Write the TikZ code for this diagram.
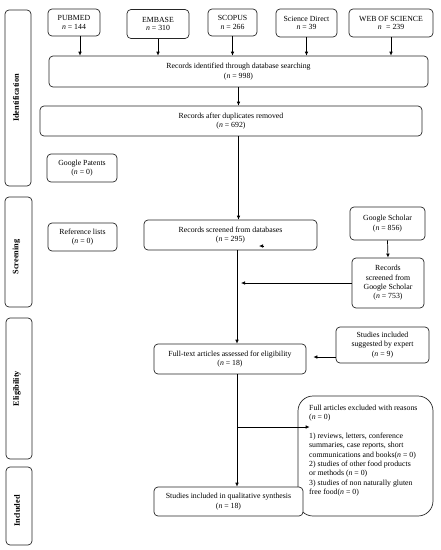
\documentclass[tikz,border=0pt]{standalone}
\usepackage{fontspec}
\setmainfont{Liberation Serif}
\usetikzlibrary{arrows.meta}
\begin{document}
\begin{tikzpicture}[x=1pt,y=-1pt,
  box/.style={draw=black!85, line width=0.7pt, rounded corners=4pt, align=center, inner sep=0pt,
    font=\fontsize{7.8}{9.3}\selectfont},
  phase/.style={draw=black!85, line width=0.7pt, rounded corners=4pt, inner sep=0pt},
  plab/.style={rotate=90, font=\fontsize{8.3}{10}\selectfont\bfseries},
  arr/.style={line width=0.7pt, -{Latex[length=4pt,width=3.6pt]}},
  ln/.style={line width=0.7pt}]
\useasboundingbox (0,0) rectangle (441,550);
% phase boxes
\node[phase, minimum width=26, minimum height=176] (pid) at (18,98) {};
\node[plab] (tid) at (16,98) {Identification};
\node[phase, minimum width=27, minimum height=110] (psc) at (18.5,252) {};
\node[plab] (tsc) at (16.5,257) {Screening};
\node[phase, minimum width=26, minimum height=141] (pel) at (19,388.5) {};
\node[plab] (tel) at (17,388.5) {Eligibility};
\node[phase, minimum width=26, minimum height=78] (pin) at (19,506) {};
\node[plab] (tin) at (17,511) {Included};
% databases
\node[box, minimum width=52, minimum height=27] (pub) at (74,22.5) {PUBMED\\[-1pt]\textit{n} = 144};
\node[box, minimum width=62, minimum height=29] (emb) at (158,24) {EMBASE\\[-1pt]\textit{n} = 310};
\node[box, minimum width=49, minimum height=27] (sco) at (232.5,22.5) {SCOPUS\\[-1pt]\textit{n} = 266};
\node[box, minimum width=61, minimum height=28] (sd) at (306.5,23) {Science Direct\\[-1pt]\textit{n} = 39};
\node[box, minimum width=84, minimum height=28] (wos) at (391,23) {WEB OF SCIENCE\\[-1pt]\textit{n}\,\, = 239};
% main flow
\node[box, minimum width=379, minimum height=31] (rid) at (238.5,71.5) {Records identified through database searching\\(\textit{n} = 998)};
\node[box, minimum width=382, minimum height=30] (rad) at (231,121) {Records after duplicates removed\\(\textit{n} = 692)};
\node[box, minimum width=70, minimum height=28] (gp) at (82,168) {Google Patents\\(\textit{n} = 0)};
\node[box, minimum width=69, minimum height=28] (rl) at (82.5,237) {Reference lists\\(\textit{n} = 0)};
\node[box, minimum width=173, minimum height=30] (rsd) at (230.5,235) {Records screened from databases\\(\textit{n} = 295)};
\node[box, minimum width=75, minimum height=33] (gs) at (387.5,223.5) {Google Scholar\\(\textit{n} = 856)};
\node[box, minimum width=72, minimum height=50] (rsgs) at (388,283) {Records\\screened from\\Google Scholar\\(\textit{n} = 753)};
\node[box, minimum width=152, minimum height=30] (ft) at (230,359) {Full-text articles assessed for eligibility\\(\textit{n} = 18)};
\node[box, minimum width=93, minimum height=36] (exp) at (382.5,345) {Studies included\\suggested by expert\\(\textit{n} = 9)};
\node[box, rounded corners=15pt, minimum width=135, minimum height=120] (exc) at (365.5,456) {};
\node[anchor=north west, align=left, inner sep=0pt, font=\fontsize{7.8}{9.3}\selectfont] (exct) at (309,405)
  {Full articles excluded with reasons\\(\textit{n} = 0)\\[9.3pt]1) reviews, letters, conference\\summaries, case reports, short\\communications and books(\textit{n} = 0)\\2) studies of other food products\\or methods (\textit{n} = 0)\\3) studies of non naturally gluten\\free food(\textit{n} = 0)};
\node[box, minimum width=149, minimum height=29, fill=white] (inc) at (228.5,501.5) {Studies included in qualitative synthesis\\(\textit{n} = 18)};
% connectors
\coordinate (vx) at (237,0);
\draw[arr] ([xshift=6pt]pub.south) -- ([xshift=6pt]pub.south |- rid.north);
\draw[arr] (emb.south) -- (emb.south |- rid.north);
\draw[arr] (sco.south) -- (sco.south |- rid.north);
\draw[arr] (sd.south) -- (sd.south |- rid.north);
\draw[arr] (wos.south) -- (wos.south |- rid.north);
\draw[arr] (rid.south) -- (rid.south |- rad.north);
\draw[arr] (rad.south -| rid.south) -- (rsd.north -| rid.south);
\draw[arr] (rsd.south -| vx) -- (ft.north -| vx);
\draw[arr] (gs.south) -- (rsgs.north);
\draw[arr, shorten >=4pt] (rsgs.west) -- (rsgs.west -| vx);
\draw[arr, shorten >=7pt] ([yshift=-12pt]exp.west) -- ([yshift=-12pt]exp.west -| ft.east);
\draw[arr] (ft.south -| vx) -- (inc.north -| vx);
\coordinate (br) at (237,427);
\draw[arr] (br) -- ([xshift=12pt]br -| exc.west);
\coordinate (sa) at (264,246);
\coordinate (sb) at (259,246);
\draw[arr] (sa) -- (sb);
\end{tikzpicture}
\end{document}
